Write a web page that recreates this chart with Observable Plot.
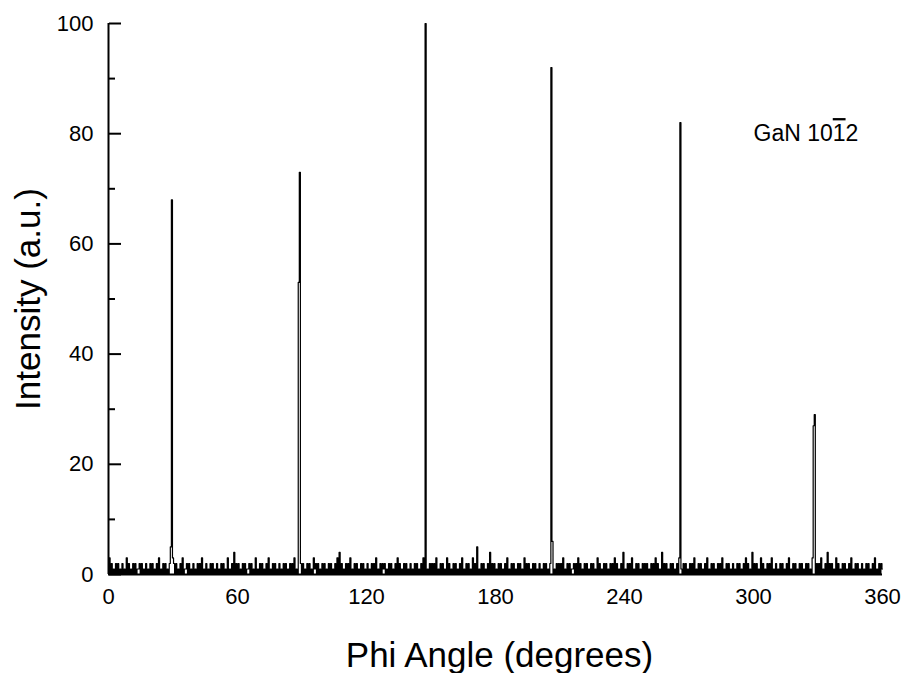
<!DOCTYPE html>
<html><head><meta charset="utf-8">
<script src="https://cdn.jsdelivr.net/npm/d3@7"></script>
<script src="https://cdn.jsdelivr.net/npm/@observablehq/plot@0.6"></script>
<style>body{margin:0;background:#fff}</style>
</head><body><div id="chart"></div>
<script>
const xTicks = [0, 60, 120, 180, 240, 300, 360];
const yMajor = [0, 20, 40, 60, 80, 100];
const yMinor = [10, 30, 50, 70, 90];
const angleStep = 0.5;
// baseline counts, one digit per 0.5 degree, one row per 10 degrees
const noiseRows = [
  "03020102020102010302","01020201120201020102","02010203010202010201",
  "02020102030112020102","01020203010201020201","02010202010301020402",
  "02010202011202010301","02020102030102020102","01020201020203010202",
  "02010202010312020102","02010202010203040201","02020301020201020201",
  "02010202030102021201","02020102030201020201","02010202010203020102",
  "02020301020201030201","02020102030102020103","02050102020102040202",
  "01020201020301020201","02020103020201020201","02010202010203010202",
  "02030102020112020302","01020201020201030201","02020102020302010204",
  "01020203010202010202","02010202030201040202","01020201020301020201",
  "02020301020201020301","02020102020301020201","02010202010203020104",
  "02020103020102020301","02010202010203010202","01020201020201030202",
  "02030102040202010302","01020201020301020201","02010202010203010202",
  "1"
];
const peakAngles = [29, 29.5, 30, 88.5, 89, 147.5, 206, 206.5, 266, 328, 328.5];
const peakValues = [5, 68, 3, 53, 73, 100, 92, 6, 82, 27, 29];
const xLabel = "Phi Angle (degrees)";
const yLabel = "Intensity (a.u.)";
const notes = [{text: "GaN 1012", angle: 300, intensity: 80}];

const counts = noiseRows.join("").split("").map(Number);
const data = counts.map((v, i) => ({angle: i * angleStep, intensity: v}));
peakAngles.forEach((a, k) => {
  const i = Math.round(a / angleStep);
  if (data[i]) data[i].intensity = peakValues[k];
});

const font = "'Liberation Sans', Arial, Helvetica, sans-serif";
const chart = Plot.plot({
  width: 906, height: 673,
  marginLeft: 108, marginRight: 24, marginTop: 23, marginBottom: 99,
  style: {fontFamily: font, background: "white", color: "black", overflow: "visible"},
  x: {domain: [0, 360]},
  y: {domain: [0, 100]},
  marks: [
    Plot.axisX(xTicks, {tickSize: 0, tickPadding: 14, fontSize: 22, label: null}),
    Plot.axisY(yMajor, {tickSize: 0, tickPadding: 15, fontSize: 22, label: null}),
    Plot.axisY(yMajor, {anchor: "right", frameAnchor: "left", tickSize: 12, strokeWidth: 2, tickFormat: () => "", label: null}),
    Plot.axisY(yMinor, {anchor: "right", frameAnchor: "left", tickSize: 6, strokeWidth: 2, tickFormat: () => "", label: null}),
    Plot.line(data, {x: "angle", y: "intensity", stroke: "black", strokeWidth: 1.2, curve: "step"}),
    Plot.ruleX([0], {stroke: "black", strokeWidth: 2}),
    Plot.ruleY([0], {stroke: "black", strokeWidth: 2}),
    Plot.text(notes, {x: "angle", y: "intensity", text: "text", textAnchor: "start", fontSize: 23, className: "note"}),
    Plot.text([xLabel], {frameAnchor: "bottom", dx: 4, dy: 81, fontSize: 35, lineAnchor: "middle", textAnchor: "middle"}),
    Plot.text([yLabel], {frameAnchor: "left", dx: -80, rotate: -90, fontSize: 35, lineAnchor: "middle", textAnchor: "middle"})
  ]
});
document.getElementById("chart").appendChild(chart);

// overline the second "1" of the Miller index (10-12)
d3.select(chart).selectAll("g.note text").each(function () {
  const t = d3.select(this);
  const s = t.text();
  t.text(null);
  t.append("tspan").text(s.slice(0, 6));
  t.append("tspan").style("text-decoration", "overline").text(s.slice(6, 7));
  t.append("tspan").text(s.slice(7));
});
</script>
</body></html>
